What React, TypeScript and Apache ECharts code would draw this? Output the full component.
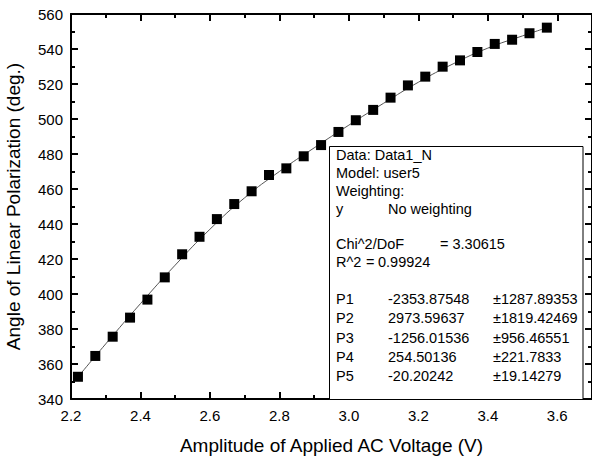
import React, { useEffect, useRef } from "react";
import * as echarts from "echarts";

const voltage = [2.22, 2.27, 2.32, 2.37, 2.42, 2.47, 2.52, 2.57, 2.62, 2.67, 2.72, 2.77, 2.82, 2.87, 2.92, 2.97, 3.02, 3.07, 3.12, 3.17, 3.22, 3.27, 3.32, 3.37, 3.42, 3.47, 3.52, 3.57];
const angle = [352.7, 364.6, 375.6, 386.5, 396.8, 409.5, 422.7, 432.7, 442.8, 451.4, 458.7, 468.0, 471.8, 478.7, 485.1, 492.6, 499.3, 505.2, 512.2, 519.2, 524.2, 529.9, 533.5, 538.3, 542.9, 545.3, 549.0, 552.2];
const fitVoltage = [2.21, 2.3, 2.4, 2.5, 2.6, 2.7, 2.8, 2.9, 3.0, 3.1, 3.2, 3.3, 3.4, 3.5, 3.58];
const fitAngle = [350.2, 371.5, 394.5, 416.5, 437.0, 455.0, 470.0, 483.5, 496.5, 509.0, 521.0, 531.5, 540.5, 547.5, 552.8];

const infoLines = ["Data: Data1_N", "Model: user5", "Weighting:"];
const paramNames = ["P1", "P2", "P3", "P4", "P5"];
const paramValues = ["-2353.87548", "2973.59637", "-1256.01536", "254.50136", "-20.20242"];
const paramErrors = ["\u00B11287.89353", "\u00B11819.42469", "\u00B1956.46551", "\u00B1221.7833", "\u00B119.14279"];

const FONT = 'Arial, "Liberation Sans", sans-serif';
const BLACK = "#000";

const mkLine = (show: boolean) => ({ show, onZero: false, lineStyle: { color: BLACK, width: 2 } });
const mkTick = (len: number) => ({ show: true, inside: true, length: len, lineStyle: { color: BLACK, width: 2 } });
const mkMinor = () => ({ show: true, splitNumber: 2, length: 4, lineStyle: { color: BLACK, width: 2 } });

export default function App() {
  const ref = useRef<HTMLDivElement>(null);
  useEffect(() => {
    if (!ref.current) return;
    const chart = echarts.init(ref.current, undefined, { renderer: "svg" });

    const textEl = (x: number, y: number, text: string) => ({
      type: "text",
      x,
      y,
      z: 101,
      style: { text, fill: BLACK, font: `14.5px ${FONT}`, verticalAlign: "middle", textVerticalAlign: "middle" },
    });

    const graphics: any[] = [
      {
        type: "rect",
        z: 100,
        shape: { x: 329.5, y: 146.5, width: 253.5, height: 253 },
        style: { fill: "#fff", stroke: BLACK, lineWidth: 1 },
      },
    ];
    const infoY = [155, 173, 191];
    infoLines.forEach((t, i) => graphics.push(textEl(336, infoY[i], t)));
    graphics.push(textEl(336, 208.5, "y"));
    graphics.push(textEl(388, 208.5, "No weighting"));
    graphics.push(textEl(336, 244, "Chi^2/DoF"));
    graphics.push(textEl(440, 244, "= 3.30615"));
    graphics.push(textEl(336, 262, "R^2"));
    graphics.push(textEl(366, 262, "="));
    graphics.push(textEl(378, 262, "0.99924"));
    const pY = [298.5, 318, 337.5, 357, 376];
    paramNames.forEach((p, i) => {
      graphics.push(textEl(336, pY[i], p));
      graphics.push(textEl(388, pY[i], paramValues[i]));
      graphics.push(textEl(493, pY[i], paramErrors[i]));
    });

    const xb = () => ({ type: "value", min: 2.2, max: 3.7, splitLine: { show: false } });
    const yb = () => ({ type: "value", min: 340, max: 560, interval: 20, splitLine: { show: false } });

    chart.setOption({
      animation: false,
      textStyle: { fontFamily: FONT, color: BLACK },
      grid: { left: 71, right: 0, top: 14, bottom: 59, containLabel: false, outerBoundsMode: "none" },
      xAxis: [
        {
          ...xb(),
          position: "bottom",
          interval: 0.2,
          axisLine: mkLine(true),
          axisTick: mkTick(7),
          axisLabel: { fontSize: 15, color: BLACK, fontFamily: FONT, margin: 9, showMaxLabel: false, formatter: (v: number) => v.toFixed(1) },
          name: "Amplitude of Applied AC Voltage (V)",
          nameLocation: "middle",
          nameGap: 37,
          nameTextStyle: { fontSize: 19, color: BLACK, fontFamily: FONT },
        },
        { ...xb(), position: "bottom", interval: 0.1, axisLine: mkLine(false), axisTick: mkTick(4), axisLabel: { show: false } },
        { ...xb(), position: "top", interval: 0.2, axisLine: mkLine(true), axisTick: mkTick(7), axisLabel: { show: false } },
        { ...xb(), position: "top", interval: 0.1, axisLine: mkLine(false), axisTick: mkTick(4), axisLabel: { show: false } },
      ],
      yAxis: [
        {
          ...yb(),
          position: "left",
          axisLine: mkLine(true),
          axisTick: mkTick(7),
          minorTick: mkMinor(),
          axisLabel: { fontSize: 15, color: BLACK, fontFamily: FONT, margin: 8 },
          name: "Angle of Linear Polarization (deg.)",
          nameLocation: "middle",
          nameGap: 48,
          nameRotate: 90,
          nameTextStyle: { fontSize: 19, color: BLACK, fontFamily: FONT },
        },
        {
          ...yb(),
          position: "right",
          axisLine: mkLine(true),
          axisTick: mkTick(7),
          minorTick: mkMinor(),
          axisLabel: { show: false },
        },
      ],
      series: [
        {
          type: "line",
          xAxisIndex: 0,
          yAxisIndex: 0,
          data: fitVoltage.map((x, i) => [x, fitAngle[i]]),
          smooth: true,
          showSymbol: false,
          lineStyle: { color: "#555", width: 1 },
          z: 2,
        },
        {
          type: "scatter",
          xAxisIndex: 0,
          yAxisIndex: 0,
          data: voltage.map((x, i) => [x, angle[i]]),
          symbol: "rect",
          symbolSize: 10,
          itemStyle: { color: BLACK, opacity: 1 },
          z: 3,
        },
      ],
      graphic: graphics,
    });
    return () => chart.dispose();
  }, []);
  return <div ref={ref} style={{ position: "fixed", left: 0, top: 0, width: 592, height: 458, background: "#fff" }} />;
}
